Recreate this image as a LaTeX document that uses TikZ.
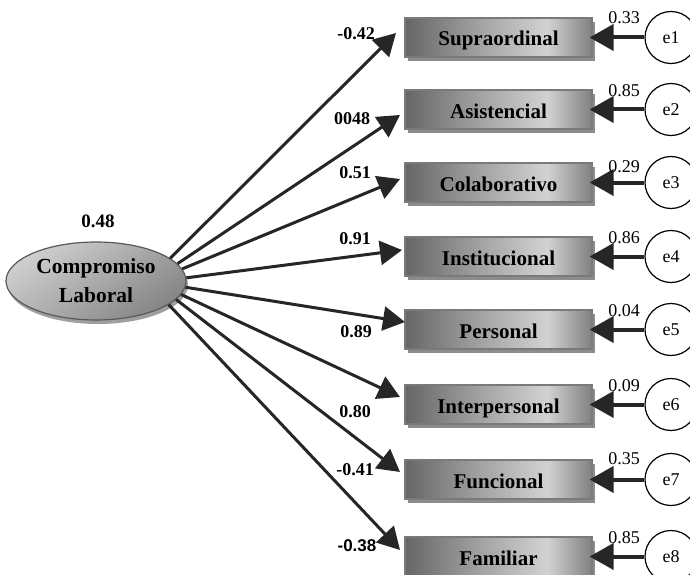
\documentclass[tikz,border=0pt]{standalone}
\usepackage{fontspec}
\setmainfont{Liberation Serif}
\newfontfamily\arialf{Liberation Sans}
\usetikzlibrary{arrows.meta,shadows,shapes.geometric}
\definecolor{bxA}{HTML}{666666}
\definecolor{bxB}{HTML}{A2A2A2}
\definecolor{bxC}{HTML}{D2D2D2}
\definecolor{bxD}{HTML}{808080}
\definecolor{bxline}{HTML}{7A7A7A}
\definecolor{shadowc}{HTML}{8C8C8C}
\definecolor{arrc}{HTML}{262626}
\definecolor{elA}{HTML}{CFCFCF}
\definecolor{elB}{HTML}{858585}
\pgfdeclarehorizontalshading{boxsh}{100bp}{color(0bp)=(bxA); color(25bp)=(bxA); color(45bp)=(bxB); color(63bp)=(bxC); color(75bp)=(bxD); color(100bp)=(bxD)}
\begin{document}
\begin{tikzpicture}[x=1pt,y=-1pt,
  bx/.style={rectangle, draw=bxline, line width=1.2pt, shading=boxsh,
    minimum width=187pt, minimum height=39pt, inner sep=0pt,
    text height=17pt, text depth=0pt,
    font=\fontsize{21}{25}\selectfont\bfseries,
    drop shadow={shadow xshift=3pt, shadow yshift=-4pt, fill=shadowc, opacity=1}},
  ell/.style={ellipse, draw=gray!70!black, line width=1.2pt,
    top color=elA, bottom color=elB, shading angle=35,
    minimum width=180pt, minimum height=78pt, inner sep=0pt, align=center,
    font=\fontsize{21.5}{29}\selectfont\bfseries,
    drop shadow={shadow xshift=2pt, shadow yshift=-4pt, fill=gray!75, opacity=1}},
  err/.style={circle, draw=black, line width=1.2pt, fill=white,
    minimum size=52pt, inner sep=0pt, font=\fontsize{18}{21}\selectfont},
  load/.style={draw=arrc, line width=3pt, -{Triangle[length=22pt,width=24pt]}},
  errarr/.style={draw=arrc, line width=4pt, -{Triangle[length=24pt,width=26pt]}, shorten >=-3pt},
  lab/.style={font=\fontsize{18}{20}\selectfont\bfseries, inner sep=0pt},
  elab/.style={font=\fontsize{18}{20}\selectfont, inner sep=0pt}
]
\useasboundingbox (0,0) rectangle (690,575);
\fill[white] (0,0) rectangle (690,575);

% boxes
\node[bx] (b1) at (498.5,37.5) {Supraordinal};
\node[bx] (b2) at (498.5,109.5) {Asistencial};
\node[bx] (b3) at (498.5,182.5) {Colaborativo};
\node[bx] (b4) at (498.5,256.5) {Institucional};
\node[bx] (b5) at (498.5,329.5) {Personal};
\node[bx] (b6) at (498.5,404.5) {Interpersonal};
\node[bx] (b7) at (498.5,479.5) {Funcional};
\node[bx] (b8) at (498.5,556.5) {Familiar};

% latent
\node[ell] (L) at (96,281) {Compromiso\\Laboral};
\node[font=\fontsize{19}{21}\selectfont\bfseries, inner sep=0pt] (r2) at (98,221) {0.48};

% arrow tips
\coordinate (t1) at (396,33);
\coordinate (t2) at (400,115);
\coordinate (t3) at (400,179);
\coordinate (t4) at (402,250);
\coordinate (t5) at (405,322);
\coordinate (t6) at (400,397);
\coordinate (t7) at (400,472);
\coordinate (t8) at (400,550);

\draw[load] (L.17) -- (t1);
\draw[load] (L.12) -- (t2);
\draw[load] (L.8) -- (t3);
\draw[load] (L.2) -- (t4);
\draw[load] (L.-4) -- (t5);
\draw[load] (L.-9) -- (t6);
\draw[load] (L.-13) -- (t7);
\draw[load] (L.-18) -- (t8);

% loading labels
\node[lab] (l1) at (356,34) {-0.42};
\node[lab] (l2) at (352,119) {0048};
\node[lab] (l3) at (355,173) {0.51};
\node[lab] (l4) at (355,239) {0.91};
\node[lab] (l5) at (356,332) {0.89};
\node[lab] (l6) at (355,412) {0.80};
\node[lab] (l7) at (355,470) {-0.41};
\node[font=\fontsize{17}{19}\selectfont\arialf\bfseries, inner sep=0pt] (l8) at (357,546) {-0.38};

% error terms
\node[err] (e1) at (671,37.5) {e1};
\node[err] (e2) at (671,109.5) {e2};
\node[err] (e3) at (671,182.5) {e3};
\node[err] (e4) at (671,256.5) {e4};
\node[err] (e5) at (671,329.5) {e5};
\node[err] (e6) at (671,404.5) {e6};
\node[err] (e7) at (671,479.5) {e7};
\node[err] (e8) at (671,556.5) {e8};

\draw[errarr] (e1) -- (b1);
\draw[errarr] (e2) -- (b2);
\draw[errarr] (e3) -- (b3);
\draw[errarr] (e4) -- (b4);
\draw[errarr] (e5) -- (b5);
\draw[errarr] (e6) -- (b6);
\draw[errarr] (e7) -- (b7);
\draw[errarr] (e8) -- (b8);

\node[elab] (v1) at (624,18) {0.33};
\node[elab] (v2) at (624,91) {0.85};
\node[elab] (v3) at (624,167) {0.29};
\node[elab] (v4) at (624,238) {0.86};
\node[elab] (v5) at (624,311) {0.04};
\node[elab] (v6) at (624,386) {0.09};
\node[elab] (v7) at (624,459) {0.35};
\node[elab] (v8) at (624,538) {0.85};
\end{tikzpicture}
\end{document}
